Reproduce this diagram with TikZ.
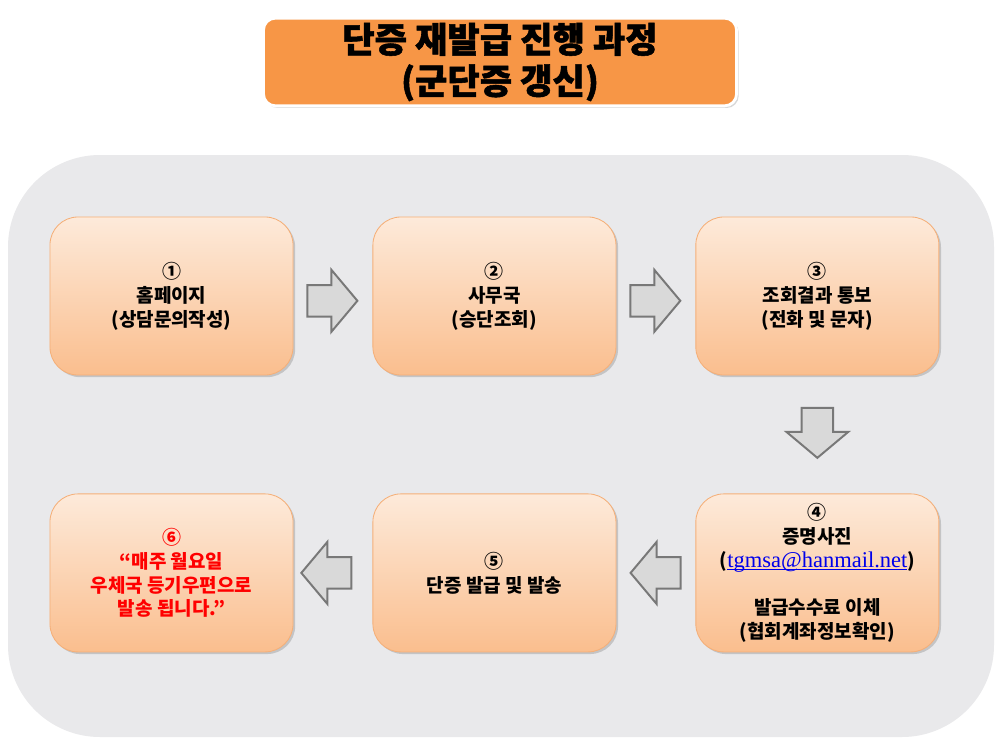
\documentclass[tikz,border=0pt]{standalone}
\usepackage{fontspec}
\setmainfont{Noto Sans CJK KR}
\newfontfamily\titlefont{Noto Sans CJK KR}[BoldFeatures={FakeBold=1.5}]
\newfontfamily\mailfont{Liberation Serif}
\usetikzlibrary{shapes.arrows, positioning, calc, shadows}
\definecolor{bggray}   {RGB}{233,233,235}
\definecolor{titleorg} {RGB}{247,150,70}
\definecolor{boxtop}   {RGB}{253,234,218}
\definecolor{boxbot}   {RGB}{250,190,142}
\definecolor{boxline}  {RGB}{245,175,120}
\definecolor{arrowfill}{RGB}{217,217,217}
\definecolor{arrowline}{RGB}{120,120,120}
\definecolor{mailblue} {RGB}{0,0,235}
\newcommand\pxu{0.025cm}

\begin{document}
\begin{tikzpicture}[x=\pxu, y=-\pxu,
  stepbox/.style={rectangle, rounded corners=0.7cm, draw=boxline,
    line width=0.6pt, top color=boxtop, bottom color=boxbot,
    minimum width=6.075cm, minimum height=3.95cm, inner sep=0pt,
    align=center, font=\fontsize{13.5}{17}\selectfont\bfseries,
    drop shadow={shadow xshift=1.5pt, shadow yshift=-1.5pt, opacity=0.35}},
  flowarrow/.style={single arrow, draw=arrowline, fill=arrowfill,
    line width=1.4pt, inner xsep=0pt, inner ysep=0.37cm,
    single arrow head extend=0.38cm, single arrow tip angle=100,
    minimum height=1.25cm}]
  \useasboundingbox (0,0) rectangle (1000,750);
  \fill[white] (0,0) rectangle (1000,750);
  % gray panel behind the steps
  \fill[bggray, rounded corners=2.3cm] (8,155) rectangle (994,737);

  \node[fill=titleorg, draw=white, line width=2pt, rounded corners=0.3cm,
        minimum width=11.825cm, minimum height=2.125cm, align=center,
        font=\titlefont\fontsize{25}{29.5}\selectfont\bfseries,
        drop shadow={shadow xshift=1.5pt, shadow yshift=-1.5pt, opacity=0.3}]
        (title) at (500,62) {단증 재발급 진행 과정\\(군단증 갱신)};

  % upper row
  \node[stepbox] (s1) at (171.5,296) {①\\홈페이지\\(상담문의작성)};
  \node[stepbox, right=1.975cm of s1] (s2) {②\\사무국\\(승단조회)};
  \node[stepbox, right=1.975cm of s2] (s3) {③\\조회결과 통보\\(전화 및 문자)};

  % lower row
  \node[stepbox, below=2.95cm of s3] (s4) {④\\증명사진\\
    ({\mailfont\mdseries\fontsize{16}{17}\selectfont\color{mailblue}%
      \underline{\smash{tgmsa@hanmail.net}}})\\[17pt]
    발급수수료 이체\\(협회계좌정보확인)};
  \node[stepbox, left=1.975cm of s4] (s5) {⑤\\단증 발급 및 발송};
  \node[stepbox, left=1.975cm of s5, text=red] (s6)
    {⑥\\“매주 월요일\\우체국 등기우편으로\\발송 됩니다.”};

  % arrows
  \node[flowarrow, xshift=-0.18cm, yshift=-0.12cm] (a12) at ($(s1.east)!0.5!(s2.west)$) {};
  \node[flowarrow, xshift=-0.18cm, yshift=-0.12cm] (a23) at ($(s2.east)!0.5!(s3.west)$) {};
  \node[flowarrow, rotate=-90] (a34) at ($(s3.south)!0.43!(s4.north)$) {};
  \node[flowarrow, rotate=180] (a45) at ($(s4.west)!0.42!(s5.east)$) {};
  \node[flowarrow, rotate=180] (a56) at ($(s5.west)!0.5!(s6.east)$) {};
\end{tikzpicture}
\end{document}
